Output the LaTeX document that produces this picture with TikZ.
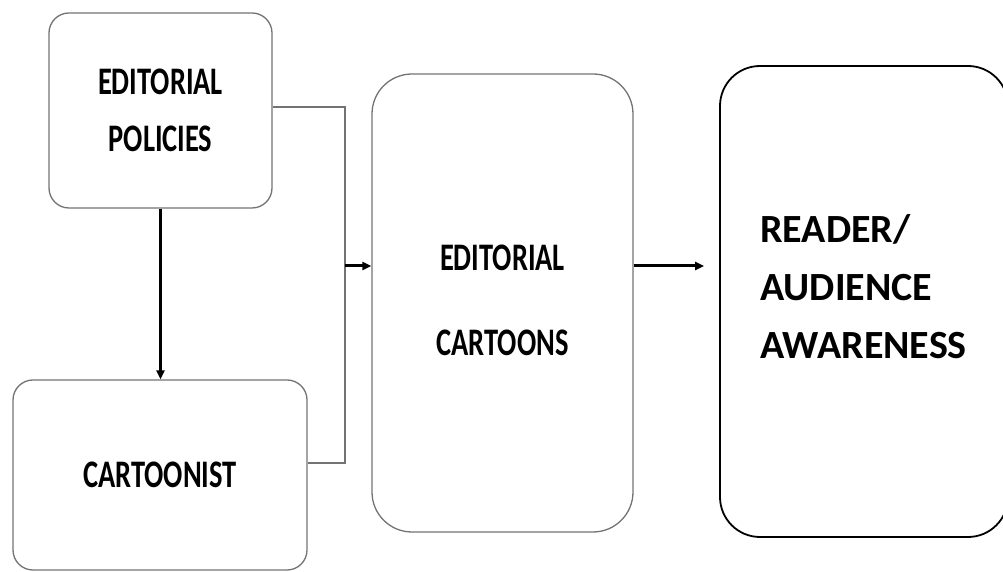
\documentclass[tikz,border=0pt]{standalone}
\usepackage{fontspec}
\setmainfont{Carlito}
\usepackage{graphicx}
\usetikzlibrary{arrows.meta, positioning, calc}

\newcommand{\squeeze}[1]{\scalebox{0.73}[1]{#1}}

\begin{document}
\begin{tikzpicture}[
      x=1pt, y=1pt,
      box/.style={rectangle, draw=black!55, line width=1.3pt, rounded corners=20pt, align=center, inner sep=0pt, font=\fontsize{39}{57}\selectfont\bfseries},
      bigbox/.style={box, rounded corners=40pt, font=\fontsize{39}{85}\selectfont\bfseries},
      outbox/.style={rectangle, draw=black, line width=1.8pt, rounded corners=40pt},
      txt/.style={align=left, inner sep=0pt, font=\fontsize{40}{58}\selectfont\bfseries},
      link/.style={draw=black!55, line width=1.6pt},
      arrow/.style={-{Triangle[length=9pt,width=8pt]}, line width=3pt}
    ]
    \useasboundingbox (0,0) rectangle (1003,572);

    \node[box, minimum width=223pt, minimum height=195pt] (pol) at (160.5,461.5) {\squeeze{EDITORIAL}\\\squeeze{POLICIES}};
    \node[box, minimum width=294pt, minimum height=190pt] (cart) at (160,97) {\squeeze{CARTOONIST}};
    \node[bigbox, minimum width=261pt, minimum height=458pt] (edc) at (502.5,269) {\raisebox{6pt}{\squeeze{EDITORIAL}}\\\raisebox{6pt}{\squeeze{CARTOONS}}};
    \node[outbox, minimum width=288pt, minimum height=471pt] (rdr) at (864,270.5) {};
    \node[txt, anchor=west] (aud) at (760,285) {READER/\\AUDIENCE\\AWARENESS};

    % junction in front of the cartoons box
    \coordinate (jn) at (345,306);

    \draw[arrow] (pol.south) -- (pol.south |- cart.north);
    \draw[link] ([yshift=3.5pt]pol.east) -| (jn);
    \draw[link] ([yshift=12pt]cart.east) -| (jn);
    \draw[arrow] (jn) -- (jn -| edc.west);
    \draw[arrow, shorten >=15pt] (edc.east |- jn) -- (rdr.west |- jn);
  \end{tikzpicture}
\end{document}
